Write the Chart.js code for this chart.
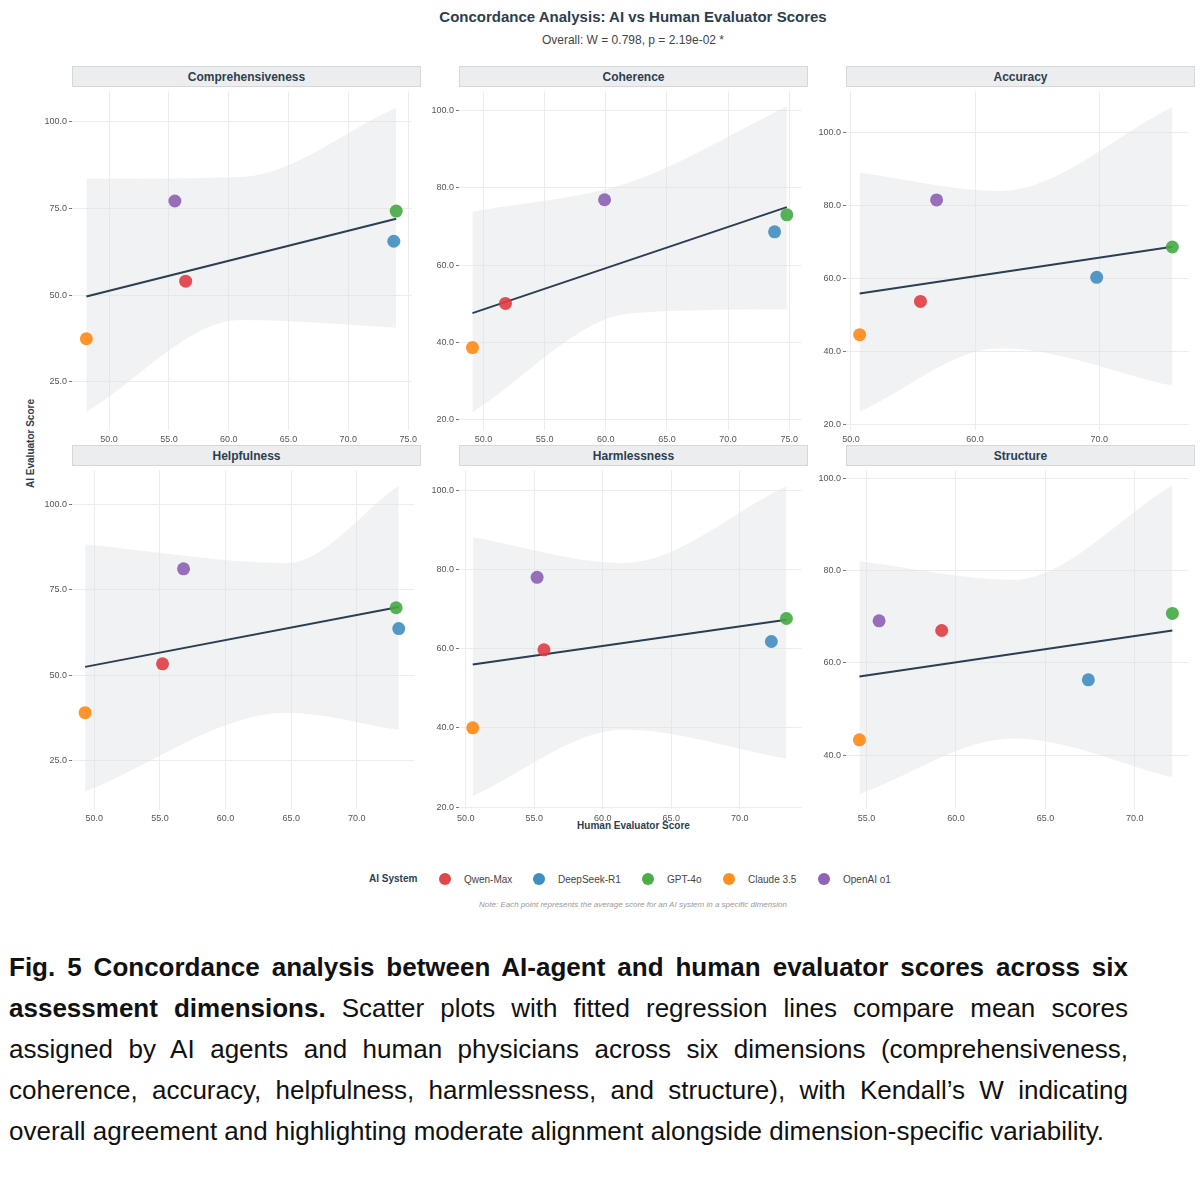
<!DOCTYPE html>
<html><head><meta charset="utf-8">
<script src="https://cdn.jsdelivr.net/npm/chart.js@4.4.1/dist/chart.umd.min.js"></script>
<style>
body{margin:0;background:#fff;font-family:"Liberation Sans",Arial,sans-serif;width:1200px;height:1189px;position:relative;overflow:hidden}
.abs{position:absolute}
.strip{position:absolute;background:#ebedef;border:1px solid #d5d8db;box-sizing:border-box;text-align:center;font-size:12px;font-weight:bold;color:#2c3e50;line-height:20px}
.t{color:#2c3e50}
.leg{position:absolute;top:873px;font-size:10px;color:#444;white-space:nowrap}
.dot{display:inline-block;width:12px;height:12px;border-radius:50%;vertical-align:-2px;margin-right:13px}
#cap{position:absolute;left:9px;top:947px;width:1119px;font-size:26px;line-height:41px;text-align:justify;color:#111}
</style></head><body>
<div class="abs t" style="left:0;width:1266px;top:8px;text-align:center;font-size:15px;font-weight:bold">Concordance Analysis: AI vs Human Evaluator Scores</div>
<div class="abs t" style="left:0;width:1266px;top:33px;text-align:center;font-size:12px;color:#444">Overall: W = 0.798, p = 2.19e-02 *</div>
<div class="abs t" style="left:-30px;top:438px;width:120px;text-align:center;font-size:10px;font-weight:bold;transform:rotate(-90deg)">AI Evaluator Score</div>
<div class="abs t" style="left:459px;width:349px;top:820px;text-align:center;font-size:10px;font-weight:bold">Human Evaluator Score</div>
<div id="panels"></div>
<div class="leg" style="left:369px;font-weight:bold;color:#2c3e50">AI System</div>
<div class="leg" style="left:439px"><span class="dot" style="background:#e0474c"></span>Qwen-Max</div>
<div class="leg" style="left:533px"><span class="dot" style="background:#3f8ec4"></span>DeepSeek-R1</div>
<div class="leg" style="left:642px"><span class="dot" style="background:#4cae4a"></span>GPT-4o</div>
<div class="leg" style="left:723px"><span class="dot" style="background:#ff8f1f"></span>Claude 3.5</div>
<div class="leg" style="left:818px"><span class="dot" style="background:#9063b3"></span>OpenAI o1</div>
<div class="abs" style="left:0;width:1266px;top:900px;text-align:center;font-size:8px;font-style:italic;color:#999">Note: Each point represents the average score for an AI system in a specific dimension</div>
<div id="cap"><b>Fig. 5 Concordance analysis between AI-agent and human evaluator scores across six assessment dimensions.</b> Scatter plots with fitted regression lines compare mean scores assigned by AI agents and human physicians across six dimensions (comprehensiveness, coherence, accuracy, helpfulness, harmlessness, and structure), with Kendall’s W indicating overall agreement and highlighting moderate alignment alongside dimension-specific variability.</div>
<script>
const systems=['Qwen-Max','DeepSeek-R1','GPT-4o','Claude 3.5','OpenAI o1'];
const colors=['rgba(224,60,65,0.9)','rgba(55,135,192,0.85)','rgba(68,170,66,0.9)','rgba(255,136,20,0.9)','rgba(140,95,178,0.9)'];
const dimensions=['Comprehensiveness','Coherence','Accuracy','Helpfulness','Harmlessness','Structure'];
// human score per system (order as systems)
const humanX=[[56.4,73.8,74.0,48.1,55.5],[51.8,73.8,74.8,49.1,59.9],[55.6,69.8,75.9,50.7,56.9],
 [55.2,73.2,73.0,49.3,56.8],[55.7,72.3,73.4,50.5,55.2],[59.2,67.4,72.1,54.6,55.7]];
const aiY=[[54.0,65.5,74.2,37.4,77.1],[50.1,68.6,73.0,38.7,76.9],[53.8,60.4,68.7,44.7,81.6],
 [53.4,63.7,69.8,39.1,81.2],[59.7,61.8,67.6,40.0,78.0],[67.0,56.3,70.7,43.3,69.1]];
// fitted line ends [x0,y0,x1,y1]
const fitLines=[[48.1,49.6,74.0,72.0],[49.1,47.6,74.8,75.0],[50.7,56.0,75.9,68.8],
 [49.3,52.5,73.2,70.0],[50.5,56.0,73.4,67.3],[54.6,57.0,72.1,67.0]];
// confidence band: x at left, middle, right
const bandX=[[48.1,61.0,74.0],[49.1,62.0,74.8],[50.7,62.0,75.9],[49.3,64.7,73.2],[50.5,61.5,73.4],[54.6,63.2,72.1]];
const bandUpper=[[83.5,84.0,104.0],[73.8,81.5,101.0],[89.0,84.0,107.0],[88.3,82.9,105.6],[88.1,81.6,101.0],[82.0,78.0,98.5]];
const bandLower=[[16.3,42.8,40.6],[22.0,47.5,48.6],[23.6,41.0,30.7],[16.0,39.1,34.0],[22.8,39.5,32.2],[31.5,43.6,35.2]];
const xRange=[[46.9,75.3],[48.0,76.0],[49.6,77.2],[48.3,74.4],[49.5,74.5],[53.85,73.0]];
const yRange=[[11.1,108.7],[17.4,104.9],[18.6,111.3],[10.9,110.0],[19.5,105.0],[28.3,101.7]];
const xStep=[5,5,10,5,5,5];
const yStep=[25,20,20,25,20,20];

function niceTicks(a,step){
  const out=[];
  for(let v=Math.ceil(a.min/step)*step;v<=a.max+1e-9;v+=step) out.push({value:v});
  a.ticks=out;
}
const plotLeft=[72,459,846], plotW=349, plotTop=[84,463], plotH=346, axW=42;
const host=document.getElementById('panels');
dimensions.forEach((dim,i)=>{
  const col=i%3,row=Math.floor(i/3);
  const s=document.createElement('div');s.className='strip';
  s.style.left=plotLeft[col]+'px';s.style.top=(plotTop[row]-18)+'px';s.style.width=plotW+'px';s.style.height='21px';
  s.textContent=dim;host.appendChild(s);
  const wrap=document.createElement('div');wrap.className='abs';
  wrap.style.left=(plotLeft[col]-axW)+'px';wrap.style.top=plotTop[row]+'px';
  wrap.style.width=(plotW+axW)+'px';wrap.style.height=(plotH+18)+'px';
  const c=document.createElement('canvas');wrap.appendChild(c);host.appendChild(wrap);
  const up=bandX[i].map((x,k)=>({x:x,y:bandUpper[i][k]}));
  const lo=bandX[i].map((x,k)=>({x:x,y:bandLower[i][k]}));
  const fl=fitLines[i];
  const pts=systems.map((n,k)=>({label:n,type:'scatter',data:[{x:humanX[i][k],y:aiY[i][k]}],
    backgroundColor:colors[k],borderWidth:0,pointRadius:6.5,order:0}));
  new Chart(c,{type:'scatter',data:{datasets:[
    {type:'line',data:lo,borderWidth:0,pointRadius:0,cubicInterpolationMode:'monotone',fill:false,order:3},
    {type:'line',data:up,borderWidth:0,pointRadius:0,cubicInterpolationMode:'monotone',fill:'-1',backgroundColor:'rgba(222,226,230,0.45)',order:3},
    {type:'line',data:[{x:fl[0],y:fl[1]},{x:fl[2],y:fl[3]}],borderColor:'#2c3e50',borderWidth:2,pointRadius:0,fill:false,order:1},
    ...pts]},
   options:{responsive:true,maintainAspectRatio:false,animation:false,layout:{padding:0},
    plugins:{legend:{display:false},tooltip:{enabled:false}},
    scales:{
     x:{type:'linear',min:xRange[i][0],max:xRange[i][1],afterFit:a=>{a.height=18},
      border:{display:false},grid:{color:'#ececec',drawTicks:false},
      ticks:{padding:4,color:'#555',font:{size:9},callback:v=>v.toFixed(1)},
      afterBuildTicks:a=>niceTicks(a,xStep[i])},
     y:{type:'linear',min:yRange[i][0],max:yRange[i][1],afterFit:a=>{a.width=axW},
      border:{display:false},grid:{color:'#ececec',tickLength:3,tickColor:'#777'},
      ticks:{padding:2,color:'#555',font:{size:9},callback:v=>v.toFixed(1)},
      afterBuildTicks:a=>niceTicks(a,yStep[i])}}}});
});
</script></body></html>
